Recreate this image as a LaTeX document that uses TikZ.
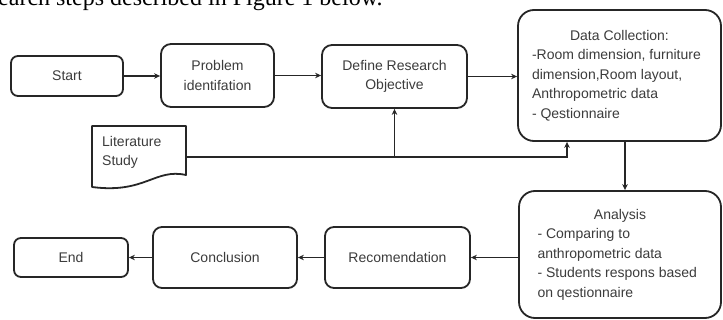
\documentclass[tikz,border=0pt]{standalone}
\usepackage{fontspec}
\setmainfont{Liberation Sans}
\newfontfamily\capfont{Liberation Serif}
\usetikzlibrary{arrows.meta}
\definecolor{linec}{HTML}{262626}
\definecolor{txtc}{HTML}{3C3C3C}
\begin{document}
\begin{tikzpicture}[x=1pt,y=-1pt,
  box/.style={draw=linec, line width=1.8pt, rounded corners=#1, inner sep=0pt,
    align=center, text=txtc, font=\fontsize{14}{19.5}\selectfont},
  box/.default=8pt,
  conn/.style={draw=linec, line width=1.8pt, -{Stealth[length=6pt,width=5.5pt]}},
  plain/.style={draw=linec, line width=1.8pt}]
\useasboundingbox (0,0) rectangle (723,320);
\clip (0,0) rectangle (723,320);
\fill[white] (0,0) rectangle (723,320);

\node[anchor=base west, inner sep=0pt, font=\capfont\fontsize{24}{28}\selectfont] (cap) at (-2,6) {earch steps described in Figure 1 below.};

\node[box=7pt, minimum width=112pt, minimum height=40pt] (start) at (67,76) {Start};
\node[box=10pt, minimum width=113pt, minimum height=63pt] (prob) at (217.5,75.5) {Problem\\identifation};
\node[box=10pt, minimum width=145pt, minimum height=63pt] (def) at (394.5,76.5) {Define Research\\Objective};
\node[box=16pt, minimum width=203pt, minimum height=131pt, align=left] (data) at (619.5,75.5)
  {\makebox[175pt]{Data Collection:}\\-Room dimension, furniture\\dimension,Room layout,\\Anthropometric data\\- Qestionnaire};
\node[box=16pt, minimum width=202pt, minimum height=127pt, align=left] (ana) at (620,254.5)
  {\makebox[165pt]{Analysis}\\- Comparing to\\anthropometric data\\- Students respons based\\on qestionnaire};
\node[box=9pt, minimum width=145pt, minimum height=61pt] (rec) at (397.5,257.5) {Recomendation};
\node[box=9pt, minimum width=144pt, minimum height=61pt] (conc) at (225,257.5) {Conclusion};
\node[box=7pt, minimum width=114pt, minimum height=39pt] (end) at (71,257.5) {End};

% Literature study document shape
\draw[plain, line join=round] (92,126) -- (186,126) -- (186,175)
  .. controls (155,168) and (145,194) .. (92,187) -- cycle;
\node[anchor=west, inner sep=0pt, align=left, text=txtc, font=\fontsize{14}{19.5}\selectfont] (lit) at (102,152.5) {Literature\\Study};
\coordinate (litout) at (186,157);
\coordinate (litturn) at (567,157);

% connectors
\draw[conn] (start.east) -- (start.east -| prob.west);
\draw[conn] (prob.east) -- (prob.east -| def.west);
\draw[conn] (def.east) -- (def.east -| data.west);
\draw[conn] ([xshift=5.5pt]data.south) -- ([xshift=5pt]ana.north);
\draw[conn] (rec.east -| ana.west) -- (rec.east);
\draw[conn] (rec.west) -- (rec.west -| conc.east);
\draw[conn] (conc.west) -- (conc.west -| end.east);
\draw[conn] (litout) -- (litturn) -- (litturn |- data.south);
\draw[conn] (litout -| def.south) -- (def.south);
\end{tikzpicture}
\end{document}
